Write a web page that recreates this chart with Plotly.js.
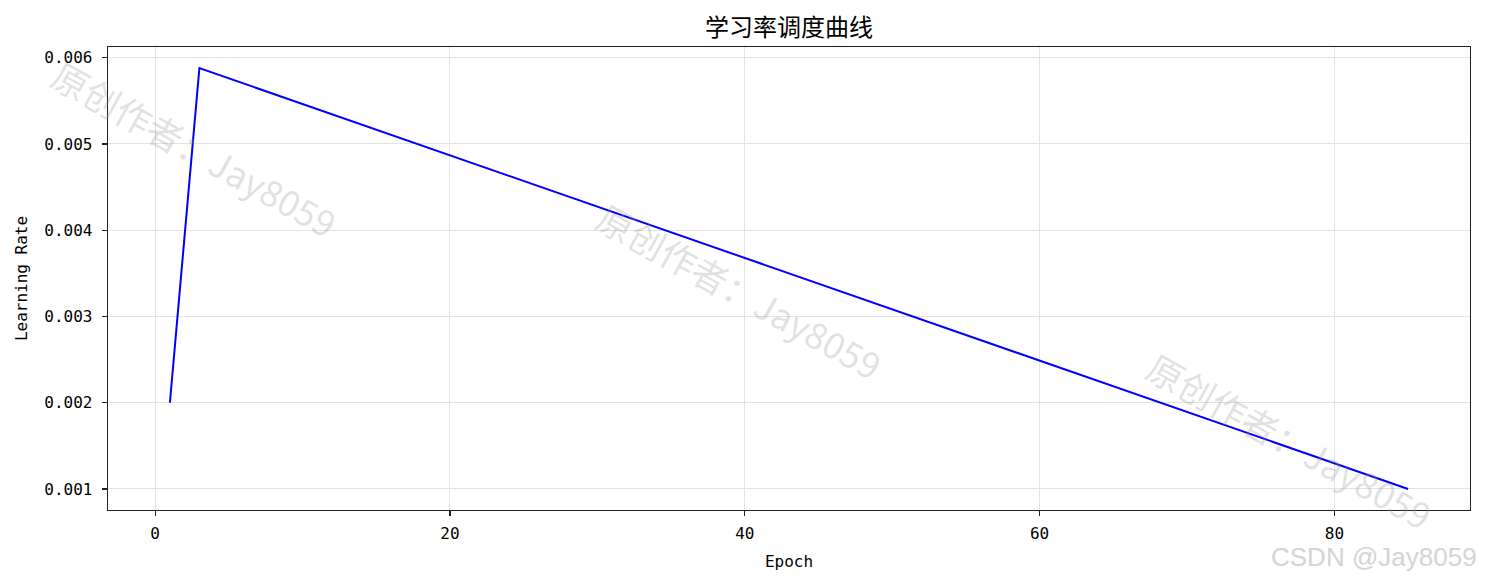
<!DOCTYPE html>
<html>
<head>
<meta charset="utf-8">
<script src="https://cdn.plot.ly/plotly-3.0.1.min.js"></script>
<style>html,body{margin:0;padding:0;background:#fff;}#chart{width:1485px;height:584px;}</style>
</head>
<body>
<div id="chart"></div>
<script>
// Data (vertices of the learning-rate schedule)
const epochs = [1, 3, 85];
const learningRates = [0.0020, 0.00588, 0.00100];

const chartTitle = '学习率调度曲线';
const xLabel = 'Epoch';
const yLabel = 'Learning Rate';
const watermarkText = '原创作者：Jay8059';
const siteMark = 'CSDN @Jay8059';

const monoFont = 'DejaVu Sans Mono, Noto Sans CJK SC, monospace';
const cjkFont = 'Noto Sans CJK SC, DejaVu Sans, sans-serif';

const trace = {
  x: epochs, y: learningRates, type: 'scatter', mode: 'lines',
  line: {color: '#0000ff', width: 2}, hoverinfo: 'skip', showlegend: false
};

function wm(x, y) {
  return {text: watermarkText, xref: 'paper', yref: 'paper', x: x, y: y,
    showarrow: false, textangle: 29, font: {family: cjkFont, size: 36, color: 'rgba(150,150,150,0.28)'},
    xanchor: 'center', yanchor: 'middle'};
}

const layout = {
  width: 1485, height: 584,
  margin: {l: 108, r: 15, t: 47, b: 74},
  paper_bgcolor: '#ffffff', plot_bgcolor: '#ffffff',
  title: {text: chartTitle, xref: 'paper', x: 0.5, xanchor: 'center', y: 0.952, yanchor: 'middle',
    font: {family: cjkFont, size: 24, color: '#000'}},
  xaxis: {
    range: [-3.2, 89.2], dtick: 20, tick0: 0,
    showgrid: true, gridcolor: '#e2e2e2', gridwidth: 1,
    zeroline: false, showline: true, linecolor: '#222', linewidth: 1.3, mirror: true,
    ticks: 'outside', ticklen: 5, tickwidth: 1.2, tickcolor: '#222', ticklabelstandoff: 3,
    tickfont: {family: monoFont, size: 16, color: '#000'},
    title: {text: xLabel, font: {family: monoFont, size: 16, color: '#000'}, standoff: 14}
  },
  yaxis: {
    range: [0.000756, 0.006124], dtick: 0.001, tick0: 0, tickformat: '.3f',
    showgrid: true, gridcolor: '#e2e2e2', gridwidth: 1,
    zeroline: false, showline: true, linecolor: '#222', linewidth: 1.3, mirror: true,
    ticks: 'outside', ticklen: 5, tickwidth: 1.2, tickcolor: '#222', ticklabelstandoff: 6,
    tickfont: {family: monoFont, size: 16, color: '#000'},
    title: {text: yLabel, font: {family: monoFont, size: 16, color: '#000'}, standoff: 12}
  },
  annotations: [
    wm(0.064, 0.782), wm(0.464, 0.475), wm(0.868, 0.151),
    {text: siteMark, xref: 'paper', yref: 'paper', x: 0.9295, y: -0.1015,
     showarrow: false, xanchor: 'center', yanchor: 'middle',
     font: {family: 'Liberation Sans, Arial, sans-serif', size: 26, color: '#d4d4d4'}}
  ]
};

Plotly.newPlot('chart', [trace], layout, {displayModeBar: false, staticPlot: true});
</script>
</body>
</html>
